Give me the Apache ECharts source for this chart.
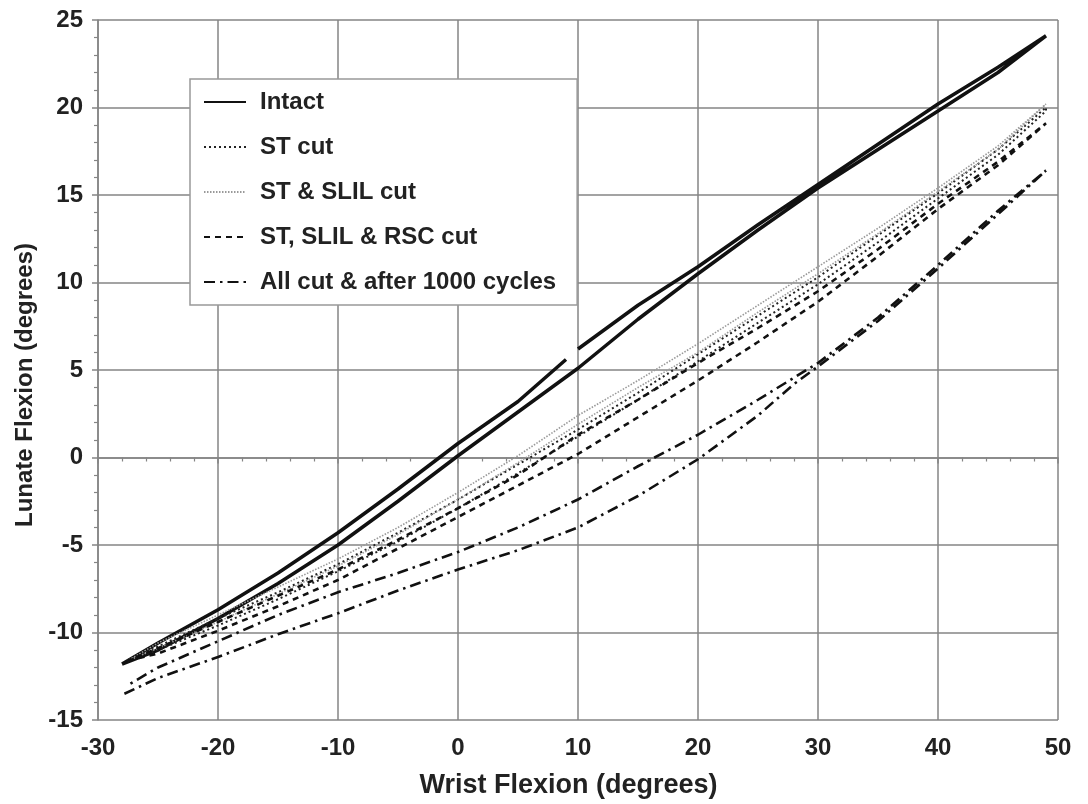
<!DOCTYPE html>
<html>
<head>
<meta charset="utf-8">
<script src="https://cdn.jsdelivr.net/npm/echarts@6/dist/echarts.min.js"></script>
<style>
html,body{margin:0;padding:0;background:#fff;}
#chart{width:1088px;height:804px;}
</style>
</head>
<body>
<div id="chart"></div>
<script>
// ---- Data ----
const seriesNames = ['Intact', 'ST cut', 'ST & SLIL cut', 'ST, SLIL & RSC cut', 'All cut & after 1000 cycles'];

// Intact: two branches; the upper branch has a small break near x = 9.5
const intactLower = [[-28,-11.8],[-25,-11.0],[-20,-9.2],[-15,-7.2],[-10,-5.0],[-5,-2.5],[0,0.1],[5,2.6],[10,5.1],[15,7.9],[20,10.5],[25,13.0],[30,15.4],[35,17.6],[40,19.8],[45,22.0],[49,24.1]];
const intactUpperA = [[-28,-11.8],[-25,-10.6],[-20,-8.7],[-15,-6.6],[-10,-4.3],[-5,-1.8],[0,0.8],[5,3.2],[9,5.6]];
const intactUpperB = [[10,6.2],[15,8.7],[20,10.9],[25,13.3],[30,15.6],[35,17.9],[40,20.2],[45,22.3],[49,24.1]];

const stUpper = [[-27.5,-11.6],[-25,-10.8],[-20,-9.2],[-15,-7.7],[-10,-6.1],[-5,-4.3],[0,-2.4],[5,-0.4],[10,1.6],[15,3.7],[20,5.9],[25,8.1],[30,10.3],[35,12.7],[40,15.1],[45,17.6],[49,20.0]];
const stLower = [[-27.5,-11.6],[-25,-11.0],[-20,-9.6],[-15,-8.1],[-10,-6.5],[-5,-4.8],[0,-2.9],[5,-0.9],[10,1.2],[15,3.3],[20,5.5],[25,7.7],[30,9.9],[35,12.3],[40,14.8],[45,17.3],[49,19.8]];

const slilUpper = [[-27.5,-11.6],[-25,-10.6],[-20,-9.0],[-15,-7.4],[-10,-5.8],[-5,-4.0],[0,-2.0],[5,0.1],[10,2.4],[15,4.4],[20,6.5],[25,8.7],[30,10.9],[35,13.1],[40,15.4],[45,17.8],[49,20.3]];
const slilLower = [[-27.5,-11.6],[-25,-10.9],[-20,-9.4],[-15,-7.8],[-10,-6.2],[-5,-4.4],[0,-2.4],[5,-0.3],[10,1.9],[15,4.0],[20,6.0],[25,8.3],[30,10.5],[35,12.8],[40,15.2],[45,17.6],[49,20.2]];

const rscUpper = [[-27.5,-11.6],[-25,-10.9],[-20,-9.4],[-15,-7.9],[-10,-6.4],[-5,-4.7],[0,-2.9],[5,-1.0],[10,1.3],[15,3.3],[20,5.4],[25,7.4],[30,9.5],[35,11.9],[40,14.5],[45,16.9],[49,19.1]];
const rscLower = [[-27.5,-11.6],[-25,-11.2],[-20,-9.9],[-15,-8.5],[-10,-7.0],[-5,-5.2],[0,-3.4],[5,-1.6],[10,0.2],[15,2.3],[20,4.4],[25,6.6],[30,8.9],[35,11.5],[40,14.2],[45,16.7],[49,19.1]];

const allUpper = [[-27.5,-13.0],[-25,-12.0],[-20,-10.5],[-15,-9.0],[-10,-7.7],[-5,-6.6],[0,-5.4],[5,-4.0],[10,-2.4],[15,-0.5],[20,1.3],[25,3.3],[30,5.4],[35,8.0],[40,11.0],[45,14.1],[49,16.4]];
const allLower = [[-27.8,-13.5],[-25,-12.6],[-20,-11.4],[-15,-10.1],[-10,-8.9],[-5,-7.6],[0,-6.4],[5,-5.3],[10,-4.0],[15,-2.2],[20,-0.1],[25,2.4],[28,4.2],[30,5.2],[35,7.8],[40,10.8],[45,13.9],[49,16.4]];

// ---- Build loops ----
function loop(lower, upper) {
  return lower.concat(upper.slice().reverse());
}
const intactData = intactLower.concat(intactUpperB.slice().reverse(), [[9.5, null]], intactUpperA.slice().reverse());

const FONT = '"Liberation Sans", Arial, Helvetica, sans-serif';
const GRIDC = '#858585';

function mk(name, data, color, width, type) {
  return {
    name: name, type: 'line', data: data, symbol: 'none', showSymbol: false,
    connectNulls: false, smooth: false, animation: false,
    lineStyle: { color: color, width: width, type: type },
    itemStyle: { color: color },
    z: 3
  };
}

const chart = echarts.init(document.getElementById('chart'), null, { renderer: 'canvas' });
chart.setOption({
  backgroundColor: '#fff',
  animation: false,
  grid: { left: 98, right: 30, top: 20, bottom: 84, containLabel: false },
  legend: {
    orient: 'vertical', left: 190, top: 79,
    padding: [11, 21, 11, 13],
    itemWidth: 42, itemHeight: 14, itemGap: 21,
    backgroundColor: '#fff', borderColor: '#999', borderWidth: 1.5,
    itemStyle: { opacity: 0 },
    textStyle: { fontFamily: FONT, fontWeight: 'bold', fontSize: 24, color: '#222', padding: [0, 0, 0, 9] },
    data: seriesNames,
    selectedMode: false
  },
  xAxis: {
    type: 'value', min: -30, max: 50, interval: 10,
    name: 'Wrist Flexion (degrees)', nameLocation: 'middle', nameGap: 52,
    nameTextStyle: { fontFamily: FONT, fontWeight: 'bold', fontSize: 27, color: '#222', padding: [0, 19, 0, 0] },
    axisLine: { show: true, lineStyle: { color: GRIDC, width: 1.5 } },
    axisTick: { show: true, length: 6, lineStyle: { color: GRIDC, width: 1.5 } },
    minorTick: { show: true, splitNumber: 5, length: 4, lineStyle: { color: GRIDC, width: 1.2 } },
    axisLabel: { fontFamily: FONT, fontWeight: 'bold', fontSize: 24, color: '#222', margin: 16 },
    splitLine: { show: true, lineStyle: { color: GRIDC, width: 1.5 } }
  },
  yAxis: {
    type: 'value', min: -15, max: 25, interval: 5,
    name: 'Lunate Flexion (degrees)', nameLocation: 'middle', nameGap: 58, nameRotate: 90,
    nameTextStyle: { fontFamily: FONT, fontWeight: 'bold', fontSize: 24, color: '#222', padding: [0, 30, 0, 0] },
    axisLine: { show: true, onZero: false, lineStyle: { color: GRIDC, width: 1.5 } },
    axisTick: { show: true, length: 6, lineStyle: { color: GRIDC, width: 1.5 } },
    minorTick: { show: true, splitNumber: 5, length: 4, lineStyle: { color: GRIDC, width: 1.2 } },
    axisLabel: { fontFamily: FONT, fontWeight: 'bold', fontSize: 24, color: '#222', margin: 15 },
    splitLine: { show: true, lineStyle: { color: GRIDC, width: 1.5 } }
  },
  series: [
    mk(seriesNames[0], intactData, '#111', 3.5, 'solid'),
    mk(seriesNames[1], loop(stLower, stUpper), '#222', 2, [2, 3]),
    mk(seriesNames[2], loop(slilLower, slilUpper), '#999', 1.6, [1.5, 1.5]),
    mk(seriesNames[3], loop(rscLower, rscUpper), '#111', 2.6, [6, 5]),
    mk(seriesNames[4], loop(allLower, allUpper), '#111', 2.6, [11, 5, 2.5, 5])
  ]
});
</script>
</body>
</html>
